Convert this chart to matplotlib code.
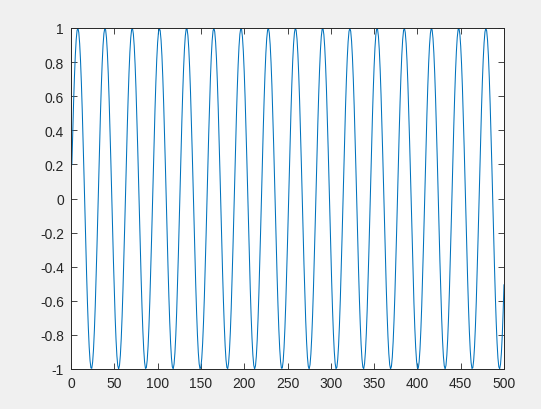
import matplotlib
matplotlib.use("Agg")
import matplotlib.pyplot as plt
import numpy as np

# samples 1..500, sine with period ~31.4 samples (peaks near 8, 39, 70, ...)
x_start = 1
x_end = 500
omega = 0.2
x = np.arange(x_start, x_end + 1)
y = np.sin(omega * x)

x_ticks = [0, 50, 100, 150, 200, 250, 300, 350, 400, 450, 500]
y_ticks = [-1, -0.8, -0.6, -0.4, -0.2, 0, 0.2, 0.4, 0.6, 0.8, 1]
y_labels = ['-1', '-0.8', '-0.6', '-0.4', '-0.2', '0', '0.2', '0.4', '0.6', '0.8', '1']

plt.rcParams['font.family'] = ['Liberation Sans', 'DejaVu Sans']

fig = plt.figure(figsize=(5.41, 4.10), dpi=100, facecolor='#f0f0f0')
ax = fig.add_axes([71 / 541, 40 / 410, 433 / 541, 341 / 410])
ax.set_facecolor('white')

ax.plot(x, y, color='#0072BD', linewidth=0.75)

ax.set_xlim(0, 500)
ax.set_ylim(-1, 1)
ax.set_xticks(x_ticks)
ax.set_yticks(y_ticks)
ax.set_yticklabels(y_labels)

ax.tick_params(direction='in', top=True, right=True, length=4, width=0.6,
               colors='#262626', labelsize=10, pad=5)
for s in ax.spines.values():
    s.set_color('#262626')
    s.set_linewidth(0.7)

fig.savefig('out.png', dpi=100, facecolor=fig.get_facecolor())
